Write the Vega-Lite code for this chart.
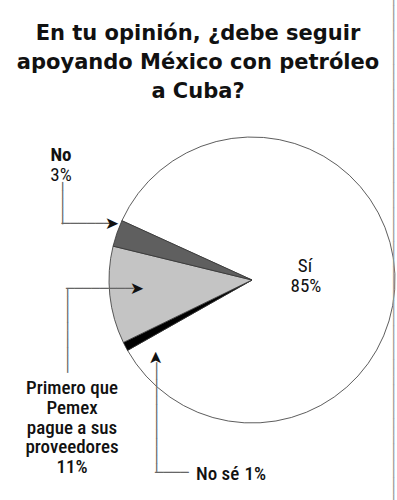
{
  "$schema": "https://vega.github.io/schema/vega-lite/v6.json",
  "width": 286,
  "height": 286,
  "autosize": {"type": "none"},
  "padding": {"left": 109, "top": 137, "right": 2, "bottom": 77},
  "background": "white",
  "config": {"view": {"stroke": null}},
  "title": {
    "text": ["En tu opinión, ¿debe seguir", "apoyando México con petróleo", "a Cuba?"],
    "font": "DejaVu Sans",
    "fontSize": 21,
    "fontWeight": "bold",
    "color": "#111111",
    "lineHeight": 29,
    "anchor": "middle",
    "frame": "group",
    "dx": -54,
    "offset": -105
  },
  "data": {
    "values": [
      {"respuesta": "Sí", "porcentaje": 0.85, "orden": 1},
      {"respuesta": "No sé", "porcentaje": 0.01, "orden": 2},
      {"respuesta": "Primero que Pemex pague a sus proveedores", "porcentaje": 0.11, "orden": 3},
      {"respuesta": "No", "porcentaje": 0.03, "orden": 4}
    ]
  },
  "layer": [
    {
      "mark": {"type": "arc", "outerRadius": 143, "stroke": "#333333", "strokeWidth": 0.8},
      "encoding": {
        "theta": {"field": "porcentaje", "type": "quantitative", "stack": true, "scale": {"range": [-1.1432, 5.14]}},
        "order": {"field": "orden", "type": "quantitative"},
        "color": {
          "field": "respuesta", "type": "nominal", "legend": null,
          "scale": {"domain": ["Sí", "No sé", "Primero que Pemex pague a sus proveedores", "No"], "range": ["#ffffff", "#000000", "#c4c4c4", "#5f5f5f"]}
        }
      }
    },
    {
      "transform": [{"filter": "datum.respuesta === 'Sí'"}],
      "mark": {"type": "text", "font": "Roboto Condensed, Liberation Sans Narrow, Roboto", "fontSize": 19, "align": "center", "baseline": "alphabetic", "dx": 53, "dy": -8, "color": "#111111"},
      "encoding": {"text": {"field": "respuesta"}}
    },
    {
      "transform": [{"filter": "datum.respuesta === 'Sí'"}],
      "mark": {"type": "text", "font": "Roboto Condensed, Liberation Sans Narrow, Roboto", "fontSize": 19, "align": "center", "baseline": "alphabetic", "dx": 54, "dy": 12, "color": "#111111"},
      "encoding": {"text": {"field": "porcentaje", "format": ".0%"}}
    },
    {
      "transform": [{"filter": "datum.respuesta === 'No'"}],
      "mark": {"type": "text", "font": "Roboto Condensed, Liberation Sans Narrow, Roboto", "fontSize": 19, "fontWeight": 700, "align": "center", "baseline": "alphabetic", "dx": -191, "dy": -119, "color": "#111111"},
      "encoding": {"text": {"field": "respuesta"}}
    },
    {
      "transform": [{"filter": "datum.respuesta === 'No'"}],
      "mark": {"type": "text", "font": "Roboto Condensed, Liberation Sans Narrow, Roboto", "fontSize": 19, "align": "center", "baseline": "alphabetic", "dx": -191, "dy": -99, "color": "#111111"},
      "encoding": {"text": {"field": "porcentaje", "format": ".0%"}}
    },
    {
      "transform": [{"filter": "datum.orden === 3"}],
      "mark": {"type": "text", "font": "Roboto Condensed, Liberation Sans Narrow, Roboto", "fontSize": 19, "fontWeight": 500, "align": "center", "baseline": "alphabetic", "lineHeight": 19.75, "dx": -180, "dy": 114, "color": "#111111"},
      "encoding": {"text": {"value": ["Primero que", "Pemex", "pague a sus", "proveedores"]}}
    },
    {
      "transform": [{"filter": "datum.orden === 3"}],
      "mark": {"type": "text", "font": "Roboto Condensed, Liberation Sans Narrow, Roboto", "fontSize": 19, "fontWeight": 500, "align": "center", "baseline": "alphabetic", "dx": -180, "dy": 193, "color": "#111111"},
      "encoding": {"text": {"field": "porcentaje", "format": ".0%"}}
    },
    {
      "transform": [{"filter": "datum.respuesta === 'No sé'"}],
      "mark": {"type": "text", "font": "Roboto Condensed, Liberation Sans Narrow, Roboto", "fontSize": 19, "fontWeight": 500, "align": "left", "baseline": "alphabetic", "dx": -56, "dy": 200, "color": "#111111"},
      "encoding": {"text": {"field": "respuesta"}}
    },
    {
      "transform": [{"filter": "datum.respuesta === 'No sé'"}],
      "mark": {"type": "text", "font": "Roboto Condensed, Liberation Sans Narrow, Roboto", "fontSize": 19, "fontWeight": 500, "align": "right", "baseline": "alphabetic", "dx": 14, "dy": 200, "color": "#111111"},
      "encoding": {"text": {"field": "porcentaje", "format": ".0%"}}
    },
    {
      "transform": [{"filter": "datum.respuesta === 'No'"}],
      "mark": {"type": "text", "font": "DejaVu Sans Mono", "fontSize": 14, "align": "center", "baseline": "middle", "angle": 90, "dx": -77, "dy": 190, "color": "#666666"},
      "encoding": {"text": {"value": "─────"}}
    },
    {
      "transform": [{"filter": "datum.respuesta === 'No'"}],
      "mark": {"type": "text", "font": "DejaVu Sans Mono", "fontSize": 14, "align": "left", "baseline": "middle", "dx": -190.5, "dy": -56, "color": "#666666"},
      "encoding": {"text": {"value": "──────"}}
    },
    {
      "transform": [{"filter": "datum.respuesta === 'No'"}],
      "mark": {"type": "text", "font": "DejaVu Sans", "fontSize": 17, "align": "right", "baseline": "middle", "dx": -133, "dy": -56, "color": "#111111"},
      "encoding": {"text": {"value": "➤"}}
    },
    {
      "transform": [{"filter": "datum.orden === 3"}],
      "mark": {"type": "text", "font": "DejaVu Sans Mono", "fontSize": 14, "align": "center", "baseline": "middle", "angle": 90, "dx": 50.5, "dy": 185.5, "color": "#666666"},
      "encoding": {"text": {"value": "──────────"}}
    },
    {
      "transform": [{"filter": "datum.orden === 3"}],
      "mark": {"type": "text", "font": "DejaVu Sans Mono", "fontSize": 14, "align": "left", "baseline": "middle", "dx": -186, "dy": 9, "color": "#666666"},
      "encoding": {"text": {"value": "────────"}}
    },
    {
      "transform": [{"filter": "datum.orden === 3"}],
      "mark": {"type": "text", "font": "DejaVu Sans", "fontSize": 17, "align": "right", "baseline": "middle", "dx": -108, "dy": 9, "color": "#111111"},
      "encoding": {"text": {"value": "➤"}}
    },
    {
      "transform": [{"filter": "datum.respuesta === 'No sé'"}],
      "mark": {"type": "text", "font": "DejaVu Sans Mono", "fontSize": 14, "align": "center", "baseline": "middle", "angle": 90, "dx": 137, "dy": 96, "color": "#666666"},
      "encoding": {"text": {"value": "─────────────"}}
    },
    {
      "transform": [{"filter": "datum.respuesta === 'No sé'"}],
      "mark": {"type": "text", "font": "DejaVu Sans Mono", "fontSize": 14, "align": "left", "baseline": "middle", "dx": -97, "dy": 193, "color": "#666666"},
      "encoding": {"text": {"value": "────"}}
    },
    {
      "transform": [{"filter": "datum.respuesta === 'No sé'"}],
      "mark": {"type": "text", "font": "DejaVu Sans", "fontSize": 17, "align": "right", "baseline": "middle", "angle": 270, "dx": -71, "dy": -96, "color": "#111111"},
      "encoding": {"text": {"value": "➤"}}
    },
    {
      "transform": [{"filter": "datum.respuesta === 'Sí'"}],
      "mark": {"type": "text", "font": "DejaVu Sans Mono", "fontSize": 14, "align": "center", "baseline": "middle", "angle": 90, "dx": -30, "dy": -141, "color": "#999999"},
      "encoding": {"text": {"value": "────────────────────────────────────────────────────────────"}}
    }
  ]
}
